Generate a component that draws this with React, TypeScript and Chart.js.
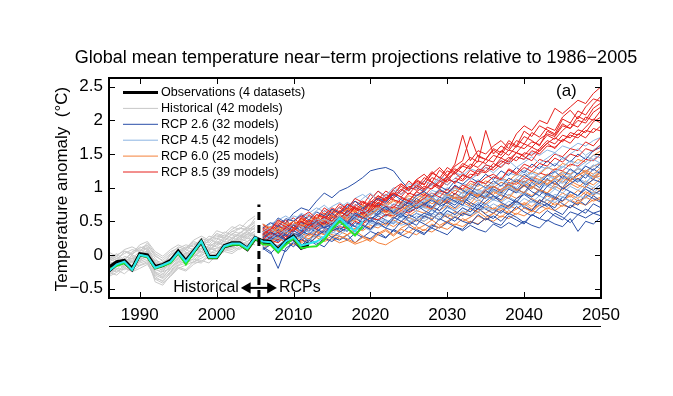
import React, { useEffect, useRef } from "react";
import { Chart, registerables } from "chart.js";
Chart.register(...registerables);

const FONT = '"Liberation Sans", Arial, sans-serif';
const histStart = 1986;
const rcpStart = 2006;
const xMin = 1986;
const xMax = 2050;
const yMin = -0.64;
const yMax = 2.63;
const xTicks = [1990, 2000, 2010, 2020, 2030, 2040, 2050];
const yTicks = [-0.5, 0, 0.5, 1, 1.5, 2, 2.5];
const titleText = "Global mean temperature near\u2212term projections relative to 1986\u22122005";
const yTitleText = "Temperature anomaly  (\u00B0C)";
const panelLabel = "(a)";
const boundaryYear = 2005.5;
const boundaryTop = 0.75;

const legendLabels = [
  "Observations (4 datasets)",
  "Historical (42 models)",
  "RCP 2.6 (32 models)",
  "RCP 4.5 (42 models)",
  "RCP 6.0 (25 models)",
  "RCP 8.5 (39 models)",
];
const colObs = "#000000";
const colHist = "rgb(200,200,200)";
const col26 = "rgb(40,78,168)";
const col45 = "rgb(140,180,226)";
const col60 = "rgb(244,128,58)";
const col85 = "rgb(230,32,28)";
const legendColors = [colObs, colHist, col26, col45, col60, col85];

// Historical model runs, 1986-2005
const historical = [
  [-0.20,-0.15,-0.05,-0.10,0.02,0.05,-0.25,-0.30,-0.15,-0.05,0.00,0.05,0.10,0.08,0.15,0.20,0.18,0.25,0.30,0.35],
  [-0.10,-0.05,-0.12,0.00,-0.05,0.08,-0.15,-0.20,-0.10,0.00,-0.05,0.10,0.05,0.15,0.12,0.22,0.30,0.25,0.35,0.40],
  [-0.28,-0.20,-0.22,-0.15,-0.10,-0.05,-0.40,-0.45,-0.30,-0.20,-0.15,-0.10,-0.05,0.02,0.05,0.10,0.08,0.15,0.20,0.25],
  [-0.05,0.02,-0.08,0.05,0.10,0.15,0.00,-0.10,-0.05,0.05,0.10,0.15,0.20,0.18,0.28,0.25,0.35,0.32,0.42,0.50],
  [-0.22,-0.25,-0.15,-0.20,-0.12,-0.08,-0.30,-0.35,-0.25,-0.12,-0.05,-0.02,0.05,0.00,0.10,0.15,0.20,0.18,0.25,0.22],
  [-0.15,-0.10,-0.18,-0.05,-0.08,0.00,-0.20,-0.28,-0.18,-0.08,0.00,-0.05,0.08,0.12,0.05,0.18,0.15,0.28,0.24,0.32],
  [-0.02,-0.08,0.05,0.00,0.12,0.08,-0.10,-0.15,0.00,0.08,0.05,0.18,0.12,0.22,0.30,0.26,0.35,0.40,0.38,0.55],
  [-0.30,-0.22,-0.28,-0.18,-0.15,-0.10,-0.35,-0.38,-0.28,-0.18,-0.22,-0.10,-0.12,-0.02,0.00,0.08,0.05,0.12,0.18,0.15],
  [-0.12,-0.18,-0.08,-0.12,-0.02,0.05,-0.18,-0.22,-0.12,-0.02,-0.08,0.05,0.10,0.05,0.20,0.15,0.25,0.22,0.32,0.28],
  [0.00,-0.05,0.02,0.08,0.05,0.18,0.02,-0.05,0.05,0.10,0.15,0.12,0.25,0.20,0.32,0.28,0.38,0.45,0.40,0.48],
  [-0.18,-0.12,-0.20,-0.10,-0.05,0.02,-0.22,-0.25,-0.20,-0.10,-0.12,0.00,-0.02,0.08,0.10,0.12,0.22,0.20,0.28,0.30],
  [-0.08,-0.02,-0.10,-0.05,0.05,0.10,-0.05,-0.18,-0.08,0.02,0.08,0.02,0.15,0.10,0.22,0.30,0.25,0.32,0.40,0.38],
  [-0.25,-0.18,-0.12,-0.22,-0.08,-0.02,-0.28,-0.32,-0.22,-0.15,-0.08,-0.12,0.00,0.05,0.02,0.12,0.10,0.20,0.15,0.25],
  [-0.10,-0.14,-0.02,-0.06,0.00,0.12,-0.12,-0.15,-0.05,0.05,0.02,0.10,0.18,0.15,0.25,0.20,0.32,0.28,0.36,0.45],
  [-0.26,-0.30,-0.20,-0.24,-0.16,-0.12,-0.36,-0.42,-0.32,-0.20,-0.24,-0.14,-0.08,-0.12,0.00,0.05,0.02,0.10,0.14,0.20],
  [-0.06,0.00,0.06,0.02,0.15,0.20,0.05,-0.02,0.08,0.15,0.10,0.22,0.28,0.22,0.36,0.32,0.42,0.38,0.50,0.58],
  [-0.16,-0.22,-0.10,-0.16,-0.06,-0.02,-0.26,-0.34,-0.20,-0.10,-0.02,-0.08,0.02,0.10,0.06,0.16,0.12,0.24,0.20,0.30],
  [-0.20,-0.10,-0.16,-0.08,-0.02,0.06,-0.12,-0.20,-0.14,-0.04,0.02,0.08,0.04,0.14,0.18,0.14,0.26,0.30,0.26,0.36],
  [-0.32,-0.26,-0.18,-0.25,-0.20,-0.14,-0.32,-0.40,-0.26,-0.16,-0.12,-0.06,-0.10,0.00,-0.04,0.06,0.12,0.08,0.16,0.20],
  [0.04,-0.02,0.08,0.12,0.06,0.14,-0.02,-0.08,0.02,0.12,0.08,0.20,0.16,0.28,0.24,0.34,0.30,0.40,0.36,0.44],
  [-0.14,-0.08,-0.14,-0.02,-0.10,0.04,-0.16,-0.24,-0.14,-0.06,0.04,-0.02,0.10,0.06,0.16,0.24,0.20,0.28,0.34,0.30],
  [-0.04,-0.12,-0.06,0.02,0.08,0.02,-0.08,-0.12,0.00,0.06,0.12,0.08,0.16,0.24,0.18,0.26,0.22,0.34,0.30,0.42],
];

// RCP 2.6 runs, 2006-2050
const rcp26 = [
  [0.30,0.40,0.55,0.48,0.62,0.70,0.66,0.80,0.92,0.85, 0.95,1.00,1.07,1.15,1.25,1.28,1.30,1.25,1.10,0.98, 1.00,0.94,1.08,1.02,0.96,1.10,1.05,1.15,1.08,1.20, 1.12,1.25,1.18,1.30,1.22,1.35,1.28,1.40,1.32,1.45, 1.38,1.50,1.42,1.55,1.60],
  [0.12,0.05,-0.20,0.10,0.18,0.08,0.22,0.15,0.25,0.20, 0.28,0.22,0.32,0.26,0.35,0.30,0.25,0.38,0.32,0.42, 0.36,0.30,0.44,0.40,0.48,0.42,0.38,0.50,0.45,0.55, 0.48,0.44,0.58,0.52,0.46,0.60,0.54,0.50,0.62,0.56, 0.48,0.60,0.55,0.62,0.58],
  [0.20,0.28,0.22,0.35,0.30,0.26,0.40,0.34,0.46,0.38, 0.44,0.50,0.42,0.55,0.48,0.58,0.52,0.46,0.60,0.55, 0.62,0.56,0.68,0.60,0.72,0.65,0.58,0.70,0.64,0.76, 0.68,0.62,0.74,0.80,0.70,0.66,0.78,0.72,0.84,0.76, 0.70,0.82,0.74,0.88,0.80],
  [0.25,0.18,0.32,0.28,0.38,0.45,0.36,0.42,0.50,0.44, 0.52,0.60,0.55,0.48,0.62,0.68,0.58,0.66,0.72,0.64, 0.70,0.78,0.72,0.66,0.80,0.74,0.86,0.78,0.72,0.88, 0.82,0.90,0.84,0.78,0.92,0.86,0.96,0.90,0.84,1.00, 0.94,0.88,1.02,0.96,1.05],
  [0.35,0.30,0.42,0.38,0.34,0.48,0.44,0.52,0.40,0.56, 0.50,0.46,0.60,0.54,0.66,0.60,0.72,0.64,0.58,0.74, 0.80,0.72,0.86,0.78,0.92,0.85,0.80,0.95,0.88,0.84, 0.98,0.92,1.05,0.96,1.10,1.02,0.95,1.12,1.06,1.00, 1.15,1.08,1.20,1.12,1.25],
  [0.08,0.15,0.10,0.05,0.20,0.14,0.24,0.18,0.12,0.26, 0.22,0.30,0.18,0.28,0.24,0.34,0.26,0.36,0.30,0.25, 0.38,0.32,0.40,0.35,0.30,0.42,0.36,0.44,0.38,0.34, 0.46,0.40,0.48,0.42,0.50,0.44,0.40,0.52,0.46,0.42, 0.54,0.35,0.50,0.46,0.56],
  [0.28,0.34,0.25,0.40,0.45,0.35,0.50,0.46,0.55,0.62, 0.54,0.66,0.58,0.70,0.64,0.76,0.68,0.62,0.78,0.72, 0.84,0.76,0.70,0.86,0.80,0.92,0.84,0.98,0.90,0.86, 1.02,0.94,1.06,0.98,0.92,1.08,1.00,1.14,1.04,1.18, 1.10,1.22,1.14,1.28,1.20],
  [0.15,0.22,0.30,0.24,0.32,0.28,0.20,0.35,0.42,0.36, 0.40,0.35,0.48,0.44,0.38,0.52,0.46,0.56,0.50,0.60, 0.54,0.62,0.58,0.52,0.66,0.60,0.70,0.64,0.76,0.68, 0.62,0.74,0.68,0.80,0.72,0.66,0.82,0.76,0.70,0.86, 0.80,0.74,0.90,0.84,0.78],
  [0.18,0.26,0.20,0.32,0.44,0.36,0.30,0.42,0.48,0.40, 0.52,0.46,0.56,0.64,0.54,0.60,0.70,0.62,0.56,0.68, 0.74,0.66,0.60,0.72,0.78,0.70,0.82,0.74,0.68,0.80, 0.88,0.78,0.72,0.84,0.90,0.82,0.76,0.92,0.86,0.80, 0.94,0.88,0.98,0.90,0.96],
  [0.32,0.24,0.38,0.30,0.22,0.34,0.46,0.38,0.32,0.44, 0.36,0.48,0.42,0.38,0.52,0.46,0.40,0.54,0.62,0.50, 0.44,0.58,0.52,0.64,0.56,0.50,0.62,0.58,0.70,0.60, 0.54,0.66,0.60,0.72,0.64,0.58,0.70,0.76,0.66,0.60, 0.74,0.68,0.62,0.76,0.70],
  [0.40,0.48,0.42,0.54,0.50,0.60,0.52,0.64,0.58,0.68, 0.62,0.72,0.80,0.70,0.76,0.84,0.78,0.90,0.82,0.76, 0.88,0.94,0.86,0.98,0.90,1.04,0.96,0.90,1.06,1.00, 1.10,1.02,1.14,1.08,1.20,1.12,1.06,1.18,1.24,1.14, 1.28,1.20,1.32,1.26,1.36],
  [0.10,0.02,0.14,0.20,0.12,0.24,0.16,0.28,0.36,0.26, 0.34,0.40,0.30,0.44,0.38,0.48,0.40,0.36,0.50,0.44, 0.52,0.46,0.40,0.54,0.48,0.56,0.50,0.46,0.60,0.52, 0.58,0.50,0.62,0.56,0.48,0.60,0.54,0.66,0.58,0.52, 0.64,0.60,0.68,0.62,0.66],
  [0.26,0.34,0.28,0.22,0.36,0.30,0.42,0.50,0.40,0.46, 0.56,0.48,0.62,0.56,0.50,0.64,0.72,0.62,0.70,0.78, 0.68,0.76,0.82,0.74,0.86,0.80,0.74,0.90,0.84,0.96, 0.88,0.82,0.98,0.92,1.04,0.94,0.88,1.02,1.10,0.98, 1.06,1.14,1.04,1.12,1.08],
];

// RCP 4.5 runs, 2006-2050
const rcp45 = [
  [0.30,0.36,0.28,0.42,0.38,0.50,0.44,0.56,0.48,0.60, 0.55,0.64,0.70,0.62,0.76,0.72,0.80,0.74,0.86,0.82, 0.90,0.84,0.96,0.92,1.00,0.95,1.06,1.02,1.12,1.05, 1.16,1.10,1.22,1.18,1.26,1.20,1.32,1.28,1.36,1.30, 1.40,1.36,1.46,1.42,1.50],
  [0.22,0.28,0.35,0.30,0.26,0.38,0.34,0.44,0.40,0.36, 0.48,0.44,0.52,0.58,0.50,0.62,0.56,0.66,0.60,0.70, 0.64,0.74,0.68,0.78,0.72,0.82,0.78,0.86,0.80,0.90, 0.84,0.94,0.88,0.98,0.92,1.02,0.96,1.06,1.00,1.10, 1.04,1.14,1.08,1.18,1.12],
  [0.40,0.46,0.52,0.45,0.58,0.54,0.62,0.70,0.64,0.72, 0.78,0.70,0.84,0.90,0.82,0.95,0.88,1.00,0.94,1.06, 1.02,1.10,1.05,1.16,1.12,1.22,1.18,1.28,1.24,1.34, 1.30,1.40,1.36,1.46,1.42,1.52,1.48,1.56,1.52,1.62, 1.58,1.66,1.62,1.70,1.75],
  [0.18,0.24,0.20,0.30,0.26,0.34,0.30,0.38,0.34,0.42, 0.38,0.46,0.42,0.50,0.45,0.54,0.50,0.46,0.58,0.54, 0.62,0.58,0.66,0.60,0.70,0.66,0.74,0.70,0.78,0.74, 0.82,0.78,0.86,0.80,0.90,0.86,0.94,0.88,0.98,0.92, 1.02,0.96,1.06,1.00,1.10],
  [0.32,0.26,0.40,0.46,0.36,0.44,0.52,0.46,0.56,0.50, 0.60,0.56,0.52,0.66,0.62,0.70,0.66,0.76,0.70,0.80, 0.76,0.86,0.80,0.74,0.88,0.84,0.94,0.88,0.98,0.92, 1.00,1.08,1.02,1.12,1.06,1.16,1.10,1.20,1.14,1.24, 1.20,1.30,1.24,1.34,1.28],
  [0.26,0.32,0.40,0.34,0.44,0.40,0.48,0.42,0.52,0.46, 0.54,0.50,0.58,0.54,0.64,0.58,0.68,0.62,0.72,0.66, 0.74,0.70,0.80,0.76,0.84,0.78,0.88,0.82,0.92,0.86, 0.96,0.90,1.00,0.94,1.04,0.98,1.08,1.02,1.12,1.06, 1.16,1.10,1.20,1.14,1.24],
  [0.38,0.34,0.44,0.40,0.50,0.46,0.42,0.54,0.50,0.58, 0.52,0.62,0.58,0.54,0.68,0.64,0.72,0.68,0.62,0.76, 0.72,0.80,0.86,0.78,0.90,0.84,0.80,0.94,0.88,1.00, 0.94,1.04,0.98,1.10,1.04,1.14,1.08,1.18,1.12,1.22, 1.18,1.28,1.22,1.32,1.38],
  [0.14,0.20,0.26,0.22,0.30,0.24,0.34,0.28,0.38,0.32, 0.40,0.36,0.44,0.40,0.48,0.44,0.52,0.48,0.56,0.50, 0.58,0.54,0.62,0.56,0.66,0.60,0.70,0.64,0.72,0.68, 0.76,0.70,0.80,0.74,0.84,0.78,0.88,0.82,0.90,0.86, 0.94,0.88,0.98,0.92,1.02],
  [0.28,0.22,0.34,0.42,0.36,0.30,0.44,0.52,0.46,0.40, 0.54,0.62,0.56,0.50,0.64,0.72,0.66,0.60,0.74,0.82, 0.76,0.70,0.84,0.92,0.86,0.80,0.94,1.02,0.96,0.90, 1.04,1.12,1.06,1.00,1.14,1.22,1.16,1.10,1.24,1.32, 1.26,1.20,1.34,1.42,1.36],
  [0.46,0.40,0.52,0.58,0.50,0.62,0.56,0.66,0.74,0.64, 0.70,0.78,0.72,0.84,0.92,0.80,0.88,0.96,0.90,0.98, 1.06,0.96,1.04,1.12,1.04,1.14,1.22,1.12,1.20,1.30, 1.22,1.32,1.40,1.30,1.38,1.46,1.36,1.44,1.52,1.42, 1.50,1.58,1.48,1.56,1.64],
  [0.12,0.18,0.14,0.24,0.18,0.28,0.22,0.30,0.26,0.34, 0.30,0.38,0.32,0.42,0.36,0.46,0.40,0.50,0.44,0.48, 0.54,0.50,0.58,0.52,0.62,0.56,0.66,0.60,0.64,0.70, 0.66,0.72,0.68,0.76,0.72,0.80,0.74,0.82,0.78,0.86, 0.80,0.88,0.84,0.92,0.90],
  [0.34,0.40,0.30,0.38,0.46,0.42,0.36,0.48,0.54,0.48, 0.44,0.56,0.62,0.54,0.50,0.64,0.70,0.62,0.58,0.72, 0.78,0.70,0.66,0.80,0.86,0.78,0.74,0.88,0.94,0.86, 0.82,0.96,1.02,0.94,0.90,1.04,1.10,1.02,0.98,1.12, 1.18,1.10,1.06,1.20,1.26],
  [0.20,0.30,0.24,0.36,0.28,0.40,0.34,0.44,0.38,0.50, 0.58,0.48,0.60,0.68,0.58,0.66,0.76,0.66,0.74,0.84, 0.74,0.82,0.92,0.82,0.90,1.00,0.90,0.98,1.08,0.98, 1.06,1.16,1.06,1.14,1.24,1.14,1.22,1.32,1.22,1.30, 1.40,1.30,1.38,1.48,1.44],
];

// RCP 6.0 runs, 2006-2050
const rcp60 = [
  [0.10,0.16,0.12,0.20,0.15,0.22,0.18,0.26,0.20,0.24, 0.18,0.22,0.16,0.20,0.25,0.18,0.15,0.22,0.28,0.34, 0.30,0.38,0.34,0.42,0.38,0.46,0.42,0.50,0.46,0.54, 0.50,0.58,0.54,0.62,0.58,0.66,0.62,0.70,0.66,0.74, 0.70,0.78,0.74,0.82,0.86],
  [0.25,0.30,0.36,0.32,0.40,0.35,0.44,0.38,0.46,0.42, 0.50,0.45,0.54,0.48,0.56,0.52,0.60,0.55,0.64,0.58, 0.66,0.62,0.70,0.66,0.74,0.68,0.78,0.72,0.82,0.76, 0.86,0.80,0.90,0.84,0.94,0.88,0.98,0.92,1.02,0.96, 1.06,1.00,1.10,1.04,1.14],
  [0.35,0.42,0.38,0.48,0.44,0.52,0.58,0.50,0.62,0.56, 0.64,0.70,0.66,0.74,0.70,0.78,0.74,0.82,0.78,0.88, 0.84,0.92,0.88,0.96,0.92,1.00,0.96,1.06,1.02,1.10, 1.06,1.14,1.10,1.20,1.16,1.24,1.20,1.30,1.26,1.36, 1.32,1.42,1.38,1.48,1.55],
  [0.20,0.14,0.24,0.30,0.22,0.32,0.28,0.36,0.30,0.40, 0.34,0.42,0.38,0.46,0.40,0.48,0.44,0.52,0.46,0.56, 0.50,0.58,0.54,0.62,0.56,0.64,0.60,0.68,0.64,0.72, 0.68,0.76,0.70,0.80,0.74,0.84,0.78,0.88,0.82,0.92, 0.86,0.96,0.90,1.00,0.95],
  [0.30,0.26,0.34,0.40,0.36,0.44,0.40,0.48,0.54,0.46, 0.56,0.52,0.60,0.56,0.64,0.58,0.68,0.62,0.72,0.66, 0.76,0.70,0.80,0.74,0.84,0.78,0.88,0.82,0.92,0.86, 0.96,0.90,1.00,0.94,1.06,1.00,1.10,1.04,1.14,1.08, 1.18,1.12,1.22,1.16,1.26],
  [0.42,0.38,0.50,0.46,0.40,0.54,0.50,0.60,0.55,0.66, 0.60,0.68,0.64,0.72,0.68,0.76,0.72,0.80,0.76,0.84, 0.80,0.88,0.84,0.92,0.88,0.96,0.92,1.00,0.96,1.04, 1.00,1.08,1.04,1.12,1.08,1.16,1.12,1.20,1.16,1.24, 1.20,1.28,1.24,1.32,1.36],
  [0.16,0.22,0.28,0.24,0.32,0.28,0.24,0.34,0.30,0.38, 0.35,0.30,0.40,0.36,0.44,0.40,0.48,0.42,0.50,0.46, 0.54,0.50,0.58,0.52,0.60,0.56,0.64,0.58,0.68,0.62, 0.70,0.66,0.74,0.68,0.78,0.72,0.82,0.76,0.86,0.80, 0.90,0.84,0.94,0.88,0.98],
  [0.24,0.18,0.12,0.20,0.26,0.18,0.24,0.30,0.22,0.28, 0.24,0.30,0.36,0.28,0.22,0.32,0.38,0.30,0.40,0.46, 0.38,0.44,0.52,0.44,0.50,0.58,0.50,0.56,0.64,0.56, 0.62,0.70,0.62,0.68,0.76,0.68,0.74,0.82,0.74,0.80, 0.88,0.80,0.86,0.94,0.90],
  [0.36,0.30,0.42,0.36,0.46,0.52,0.44,0.40,0.54,0.48, 0.60,0.54,0.50,0.62,0.58,0.68,0.64,0.58,0.72,0.66, 0.78,0.72,0.68,0.82,0.76,0.86,0.80,0.76,0.90,0.84, 0.94,0.88,0.84,0.98,0.92,1.02,0.96,0.92,1.06,1.00, 1.10,1.04,1.00,1.14,1.18],
  [0.14,0.20,0.26,0.18,0.28,0.22,0.32,0.26,0.36,0.30, 0.28,0.24,0.18,0.26,0.20,0.30,0.36,0.28,0.38,0.34, 0.42,0.36,0.46,0.40,0.50,0.44,0.54,0.48,0.58,0.52, 0.62,0.56,0.66,0.60,0.70,0.64,0.74,0.68,0.78,0.72, 0.82,0.76,0.86,0.80,0.84],
  [0.28,0.34,0.40,0.32,0.38,0.46,0.40,0.50,0.44,0.52, 0.48,0.56,0.62,0.54,0.60,0.68,0.62,0.70,0.66,0.74, 0.70,0.78,0.84,0.76,0.82,0.90,0.84,0.92,0.86,0.94, 0.90,0.98,1.04,0.96,1.02,1.10,1.04,1.12,1.06,1.14, 1.10,1.18,1.24,1.16,1.22],
  [0.46,0.40,0.34,0.44,0.50,0.42,0.48,0.56,0.50,0.58, 0.52,0.60,0.66,0.58,0.64,0.72,0.66,0.62,0.76,0.70, 0.78,0.84,0.76,0.82,0.90,0.84,0.80,0.94,0.88,0.96, 1.02,0.94,1.00,1.08,1.02,0.98,1.12,1.06,1.14,1.20, 1.12,1.18,1.26,1.20,1.30],
];

// RCP 8.5 runs, 2006-2050
const rcp85 = [
  [0.35,0.42,0.30,0.48,0.55,0.45,0.60,0.52,0.66,0.58, 0.72,0.65,0.80,0.74,0.90,0.82,0.95,0.88,1.05,0.98, 1.12,1.05,1.20,1.30,1.18,1.35,1.78,1.40,1.55,1.50, 1.62,1.70,1.58,1.80,1.92,1.85,2.00,1.95,2.18,2.10, 2.20,2.30,2.25,2.40,2.50],
  [0.30,0.25,0.38,0.33,0.45,0.50,0.42,0.55,0.62,0.50, 0.60,0.70,0.66,0.78,0.72,0.85,0.80,0.92,0.86,1.00, 1.08,0.98,1.15,1.10,1.25,1.20,1.32,1.45,1.38,1.85, 1.50,1.62,1.55,1.70,1.65,1.82,1.75,1.90,1.85,2.05, 2.15,2.02,2.20,2.32,2.28],
  [0.20,0.30,0.26,0.35,0.28,0.40,0.36,0.45,0.38,0.52, 0.48,0.58,0.52,0.64,0.60,0.70,0.66,0.75,0.72,0.82, 0.78,0.90,0.85,0.95,0.92,1.02,0.98,1.10,1.05,1.15, 1.20,1.12,1.28,1.22,1.35,1.30,1.42,1.38,1.50,1.46, 1.58,1.55,1.68,1.62,1.75],
  [0.40,0.35,0.45,0.52,0.40,0.48,0.58,0.50,0.45,0.62, 0.70,0.62,0.75,0.68,0.82,0.95,0.85,0.90,1.02,0.95, 1.10,1.04,1.22,1.15,1.08,1.25,1.32,1.28,1.40,1.36, 1.48,1.44,1.56,1.52,1.65,1.60,1.72,1.80,1.76,1.92, 1.88,2.00,1.96,2.12,2.20],
  [0.15,0.22,0.18,0.28,0.24,0.20,0.32,0.30,0.38,0.35, 0.42,0.40,0.50,0.46,0.55,0.52,0.60,0.58,0.66,0.62, 0.70,0.75,0.68,0.82,0.78,0.86,0.84,0.92,0.88,0.98, 1.02,0.96,1.08,1.05,1.15,1.10,1.22,1.18,1.28,1.25, 1.35,1.32,1.42,1.40,1.50],
  [0.28,0.36,0.45,0.38,0.50,0.44,0.40,0.55,0.50,0.68, 0.62,0.75,0.70,0.66,0.80,0.76,0.90,0.84,0.95,1.10, 1.00,1.15,1.08,1.02,1.18,1.28,1.22,1.35,1.30,1.42, 1.38,1.55,1.48,1.62,1.58,1.68,1.64,1.78,1.72,1.85, 1.95,1.90,2.05,2.00,2.15],
  [0.25,0.32,0.22,0.40,0.36,0.55,0.46,0.42,0.58,0.54, 0.66,0.58,0.72,0.80,0.74,0.70,0.86,0.82,0.78,0.92, 0.88,0.96,1.05,0.98,1.12,1.08,1.18,1.15,1.25,1.22, 1.30,1.40,1.35,1.46,1.42,1.55,1.50,1.62,1.60,1.70, 1.78,1.74,1.85,1.82,1.92],
  [0.32,0.40,0.36,0.30,0.46,0.42,0.52,0.48,0.56,0.46, 0.58,0.54,0.64,0.60,0.68,0.78,0.72,0.70,0.84,0.80, 0.94,0.88,1.00,1.10,1.04,1.14,1.10,1.20,1.18,1.30, 1.26,1.36,1.45,1.40,1.52,1.48,1.58,1.70,1.65,1.78, 1.74,1.86,1.82,1.98,2.05],
  [0.38,0.30,0.44,0.36,0.50,0.58,0.48,0.44,0.60,0.70, 0.64,0.76,0.68,0.62,0.78,0.88,0.80,0.96,0.90,1.02, 0.96,1.10,1.24,1.14,1.30,1.22,1.36,1.30,1.48,1.42, 1.56,1.48,1.66,1.60,1.76,1.70,1.62,1.84,1.78,1.95, 1.88,2.06,2.00,2.18,2.26],
  [0.22,0.34,0.28,0.42,0.50,0.40,0.36,0.52,0.46,0.58, 0.54,0.64,0.72,0.60,0.70,0.82,0.76,0.86,0.98,0.90, 1.04,0.96,1.08,1.00,1.14,1.22,1.12,1.26,1.20,1.34, 1.30,1.44,1.38,1.52,1.46,1.40,1.56,1.66,1.58,1.72, 1.66,1.80,1.74,1.88,1.84],
  [0.45,0.38,0.52,0.46,0.40,0.56,0.64,0.54,0.70,0.62, 0.76,0.68,0.84,0.78,0.72,0.88,0.82,0.98,1.06,0.96, 1.12,1.20,1.08,1.26,1.16,1.32,1.40,1.76,1.46,1.42, 1.58,1.52,1.70,1.62,1.84,1.76,1.92,1.86,1.80,2.02, 1.96,2.14,2.08,2.24,2.36],
  [0.18,0.26,0.34,0.24,0.40,0.32,0.46,0.38,0.50,0.44, 0.56,0.50,0.60,0.54,0.66,0.74,0.64,0.72,0.68,0.80, 0.76,0.84,0.92,0.86,0.98,0.90,1.04,0.98,1.10,1.06, 1.16,1.12,1.26,1.20,1.30,1.24,1.36,1.32,1.44,1.38, 1.50,1.46,1.58,1.54,1.64],
  [0.30,0.38,0.48,0.42,0.35,0.50,0.44,0.60,0.56,0.50, 0.64,0.58,0.70,0.66,0.76,0.72,0.84,0.92,0.86,0.80, 0.94,1.02,0.98,1.08,1.16,1.06,1.20,1.14,1.28,1.24, 1.36,1.30,1.42,1.52,1.48,1.60,1.54,1.66,1.74,1.68, 1.82,1.78,1.90,2.02,1.96],
];

// Observations from 1986
const obsBlackA = [-0.18,-0.10,-0.08,-0.20,0.02,0.00,-0.17,-0.14,-0.08,0.06,-0.08,0.06,0.21,-0.02,-0.02,0.14,0.18,0.18,0.10,0.26,0.21,0.20,0.08,0.21,0.28,0.13,0.17];
const obsBlackB = [-0.24,-0.14,-0.11,-0.22,0.00,-0.02,-0.19,-0.16,-0.10,0.04,-0.11,0.04,0.19,-0.04,-0.04,0.12,0.15,0.16,0.08,0.24,0.18,0.17,0.05,0.18,0.25,0.10,0.14];
const obsGreen = [-0.22,-0.16,-0.12,-0.22,0.00,-0.03,-0.20,-0.16,-0.12,0.03,-0.14,0.03,0.20,-0.04,-0.04,0.12,0.15,0.15,0.08,0.24,0.16,0.15,0.04,0.15,0.25,0.10,0.12,0.13,0.22,0.38,0.50,0.40,0.29,0.42];
const obsCyan = [-0.24,-0.14,-0.10,-0.22,0.00,-0.02,-0.19,-0.15,-0.10,0.04,-0.10,0.05,0.20,-0.03,-0.03,0.13,0.17,0.17,0.10,0.26,0.20,0.19,0.07,0.20,0.27,0.14,0.17,0.20,0.27,0.42,0.55,0.44,0.35,0.49];

const toPts = (vals: number[], start: number) => vals.map((v, i) => ({ x: start + i, y: v }));

function lineDs(vals: number[], start: number, color: string, width: number) {
  return {
    data: toPts(vals, start),
    borderColor: color,
    backgroundColor: color,
    borderWidth: width,
    pointRadius: 0,
    fill: false,
    tension: 0,
  };
}

const decor = {
  id: "decor",
  afterDatasetsDraw(chart: any) {
    const { ctx, chartArea: a, scales } = chart;
    const xs = scales.x;
    const ys = scales.y;
    const seg = (x1: number, y1: number, x2: number, y2: number) => {
      ctx.beginPath();
      ctx.moveTo(x1, y1);
      ctx.lineTo(x2, y2);
      ctx.stroke();
    };
    ctx.save();
    ctx.strokeStyle = "#000";
    ctx.lineWidth = 2;
    ctx.strokeRect(a.left, a.top, a.right - a.left, a.bottom - a.top);
    ctx.lineWidth = 1;
    xTicks.forEach((v) => {
      const px = Math.round(xs.getPixelForValue(v)) + 0.5;
      seg(px, a.bottom, px, a.bottom - 6);
      seg(px, a.top, px, a.top + 6);
    });
    yTicks.forEach((v) => {
      const py = Math.round(ys.getPixelForValue(v)) + 0.5;
      seg(a.left, py, a.left + 6, py);
      seg(a.right, py, a.right - 6, py);
    });
    // line under tick labels
    seg(a.left, 326.5, a.right, 326.5);

    // legend
    ctx.font = "12.6px " + FONT;
    ctx.textBaseline = "middle";
    ctx.textAlign = "left";
    legendLabels.forEach((lab, i) => {
      const yy = 92.5 + i * 15.9;
      ctx.strokeStyle = legendColors[i];
      ctx.lineWidth = i === 0 ? 3 : 1;
      seg(123, yy, 158, yy);
      ctx.fillStyle = "#000";
      ctx.fillText(lab, 161, yy + 0.5);
    });

    // panel label
    ctx.font = "17px " + FONT;
    ctx.fillText(panelLabel, 556, 91);

    // Historical <-> RCPs annotation text
    const ay = ys.getPixelForValue(-0.49);
    ctx.font = "16px " + FONT;
    ctx.textAlign = "right";
    ctx.fillText("Historical", xs.getPixelForValue(2002.9), ay);
    ctx.textAlign = "left";
    ctx.fillText("RCPs", xs.getPixelForValue(2008.1), ay);

    // title
    ctx.font = "18px " + FONT;
    ctx.textAlign = "center";
    ctx.fillText(titleText, 356, 58);

    // y title
    ctx.font = "17px " + FONT;
    ctx.translate(62, 189);
    ctx.rotate(-Math.PI / 2);
    ctx.fillText(yTitleText, 0, 0);
    ctx.restore();
  },
};

export default function App() {
  const ref = useRef<HTMLCanvasElement>(null);
  useEffect(() => {
    if (!ref.current) return;
    const paint: any[] = [];
    historical.forEach((v) => paint.push(lineDs(v, histStart, colHist, 1)));
    const n = Math.max(rcp26.length, rcp45.length, rcp60.length, rcp85.length);
    for (let i = 0; i < n; i++) {
      if (rcp60[i]) paint.push(lineDs(rcp60[i], rcpStart, col60, 1));
      if (rcp45[i]) paint.push(lineDs(rcp45[i], rcpStart, col45, 1));
      if (rcp26[i]) paint.push(lineDs(rcp26[i], rcpStart, col26, 1));
      if (rcp85[i]) paint.push(lineDs(rcp85[i], rcpStart, col85, 1));
    }
    paint.push(lineDs(obsBlackB, histStart, colObs, 3));
    paint.push(lineDs(obsBlackA, histStart, colObs, 3));
    paint.push(lineDs(obsGreen, histStart, "rgb(40,230,40)", 2));
    paint.push(lineDs(obsCyan, histStart, "rgb(40,230,240)", 2));
    // dashed boundary
    paint.push({
      data: [{ x: boundaryYear, y: yMin }, { x: boundaryYear, y: boundaryTop }],
      borderColor: "#000",
      borderWidth: 3,
      borderDash: [8, 5],
      pointRadius: 0,
      fill: false,
    });
    // double arrow
    paint.push({
      data: [{ x: 2004.0, y: -0.49 }, { x: 2007.0, y: -0.49 }],
      borderColor: "#000",
      backgroundColor: "#000",
      borderWidth: 2,
      pointStyle: "triangle",
      pointRadius: 4.5,
      pointRotation: [-90, 90],
      fill: false,
    });
    const datasets = paint.reverse();

    const chart = new Chart(ref.current, {
      type: "line",
      data: { datasets },
      options: {
        animation: false,
        responsive: false,
        devicePixelRatio: 1,
        parsing: false,
        normalized: true,
        layout: { padding: { left: 0, top: 78, right: 72, bottom: 0 } },
        plugins: { legend: { display: false }, title: { display: false }, tooltip: { enabled: false } },
        scales: {
          x: {
            type: "linear",
            min: xMin,
            max: xMax,
            grid: { display: false, drawTicks: false },
            border: { display: false },
            afterBuildTicks: (s: any) => { s.ticks = xTicks.map((v) => ({ value: v })); },
            afterFit: (s: any) => { s.height = 98; },
            ticks: { padding: 7, color: "#000", font: { family: FONT, size: 17 }, callback: (v: any) => String(v) },
          },
          y: {
            type: "linear",
            min: yMin,
            max: yMax,
            grid: { display: false, drawTicks: false },
            border: { display: false },
            afterBuildTicks: (s: any) => { s.ticks = yTicks.map((v) => ({ value: v })); },
            afterFit: (s: any) => { s.width = 109; },
            ticks: {
              padding: 6,
              color: "#000",
              font: { family: FONT, size: 17 },
              callback: (v: any) => (v < 0 ? "\u2212" + String(Math.abs(v)) : String(v)),
            },
          },
        },
      },
      plugins: [decor],
    });
    return () => chart.destroy();
  }, []);
  return (
    <div style={{ position: "absolute", left: 0, top: 0, width: 673, height: 396, background: "#fff" }}>
      <canvas ref={ref} width={673} height={396} style={{ display: "block" }} />
    </div>
  );
}
